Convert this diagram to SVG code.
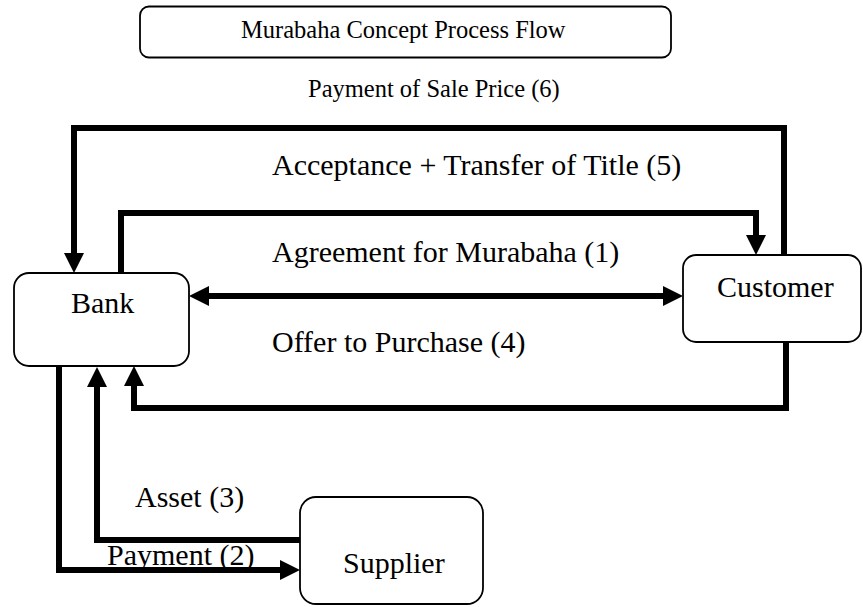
<svg xmlns="http://www.w3.org/2000/svg" width="863" height="607" viewBox="0 0 863 607">
<style>
.box{fill:#fff;stroke:#000;stroke-width:1.8}
.lbl{font-family:"Liberation Serif","Times New Roman",serif;font-size:30px;fill:#000}
.sm{font-family:"Liberation Serif","Times New Roman",serif;font-size:24.5px;fill:#000}
.con{fill:none;stroke:#000;stroke-width:6;stroke-linejoin:miter}
</style>
<defs>
<marker id="ah" viewBox="0 0 20 20" refX="0" refY="10" markerWidth="20" markerHeight="20" markerUnits="userSpaceOnUse" orient="auto-start-reverse">
<path d="M0,0 L20,10 L0,20 z" fill="#000"/>
</marker>
</defs>
<rect width="863" height="607" fill="#fff"/>
<g id="title">
<rect class="box" x="140" y="6.5" width="531" height="51" rx="9"/>
<text class="sm" x="241" y="38">Murabaha Concept Process Flow</text>
</g>
<g id="connectors">
<path class="con" d="M784,255 V128 H74 V253" marker-end="url(#ah)"/>
<path class="con" d="M121,273 V213 H756 V235" marker-end="url(#ah)"/>
<path class="con" d="M209,296 H663" marker-start="url(#ah)" marker-end="url(#ah)"/>
<path class="con" d="M786,342 V408 H134 V386" marker-end="url(#ah)"/>
<path class="con" d="M300,540 H97 V387" marker-end="url(#ah)"/>
<path class="con" d="M59,366 V570 H280" marker-end="url(#ah)"/>
</g>
<g id="labels">
<text class="sm" x="308" y="97">Payment of Sale Price (6)</text>
<text class="lbl" x="272" y="175">Acceptance + Transfer of Title (5)</text>
<text class="lbl" x="272" y="262">Agreement for Murabaha (1)</text>
<text class="lbl" x="272" y="352">Offer to Purchase (4)</text>
<text class="lbl" x="135" y="507">Asset (3)</text>
<text class="lbl" x="107" y="565">Payment (2)</text>
</g>
<g id="bank">
<rect class="box" x="14" y="273" width="175" height="93" rx="15"/>
<text class="lbl" x="71" y="313">Bank</text>
</g>
<g id="customer">
<rect class="box" x="683" y="255" width="178" height="87" rx="13"/>
<text class="lbl" x="717" y="297">Customer</text>
</g>
<g id="supplier">
<rect class="box" x="300" y="497" width="183" height="107" rx="16"/>
<text class="lbl" x="343" y="573">Supplier</text>
</g>
</svg>
